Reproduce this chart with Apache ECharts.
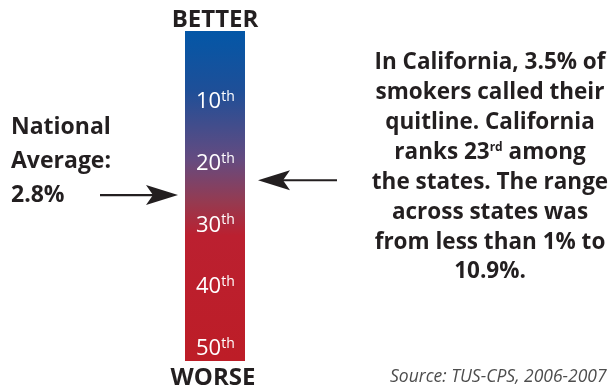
<!DOCTYPE html>
<html><head><meta charset="utf-8">
<script src="https://cdn.jsdelivr.net/npm/echarts@6/dist/echarts.min.js"></script>
<style>html,body{margin:0;padding:0;background:#fff}#c{width:608px;height:387px}</style>
</head><body><div id="c"></div>
<script>
// ---- data ----
const rankTicks = [10, 20, 30, 40, 50];
const tickSuffix = ['th', 'th', 'th', 'th', 'th'];
const rankExtent = [-1.2, 52.3];
const californiaRank = 23;
const nationalAverageRank = 25.4;
const topLabel = 'BETTER';
const bottomLabel = 'WORSE';
const leftLines = ['National', 'Average:', '2.8%'];
const rightLines = [
  'In California, 3.5% of',
  'smokers called their',
  'quitline. California',
  'ranks 23{s|rd} among',
  'the states. The range',
  'across states was',
  'from less than 1% to',
  '10.9%.'
];
const sourceText = 'Source: TUS-CPS, 2006-2007';

// ---- chart ----
const FONT = '"Open Sans", "Liberation Sans", sans-serif';
const DARK = '#231f20';
const chart = echarts.init(document.getElementById('c'), null, {renderer: 'canvas'});

const option = {
  animation: false,
  backgroundColor: '#ffffff',
  grid: {left: 185, width: 60, top: 31, bottom: 26},
  xAxis: {type: 'value', min: 0, max: 1, show: false},
  yAxis: {
    type: 'value', inverse: true, min: rankExtent[0], max: rankExtent[1], z: 10,
    axisLine: {show: false}, axisTick: {show: false}, splitLine: {show: false},
    axisLabel: {
      inside: true, margin: 11, customValues: rankTicks,
      formatter: function (v) {
        const i = rankTicks.indexOf(v);
        return '{n|' + v + '}{s|' + tickSuffix[i] + '}';
      },
      rich: {
        n: {fontFamily: FONT, fontSize: 22, color: '#ffffff', lineHeight: 26, verticalAlign: 'bottom'},
        s: {fontFamily: FONT, fontSize: 14, color: '#ffffff', lineHeight: 26, verticalAlign: 'bottom', padding: [0, 0, 9, 0]}
      }
    }
  },
  series: [{
    type: 'custom',
    data: [[rankExtent[0], rankExtent[1]]],
    renderItem: function (params, api) {
      const p0 = api.coord([0, api.value(0)]);
      const p1 = api.coord([1, api.value(1)]);
      return {
        type: 'rect',
        shape: {x: p0[0], y: Math.min(p0[1], p1[1]), width: p1[0] - p0[0], height: Math.abs(p1[1] - p0[1])},
        style: {
          fill: new echarts.graphic.LinearGradient(0, 0, 0, 1, [
            {offset: 0, color: '#0357a7'},
            {offset: 0.18, color: '#1e4f98'},
            {offset: 0.39, color: '#654b80'},
            {offset: 0.52, color: '#963a50'},
            {offset: 0.62, color: '#bb2030'},
            {offset: 1, color: '#bd1d27'}
          ])
        }
      };
    }
  }]
};
chart.setOption(option);

const yCal = chart.convertToPixel({yAxisIndex: 0}, californiaRank);
const yNat = chart.convertToPixel({yAxisIndex: 0}, nationalAverageRank);
const yTop = chart.convertToPixel({yAxisIndex: 0}, rankExtent[0]);
const yBot = chart.convertToPixel({yAxisIndex: 0}, rankExtent[1]);
const xMid = chart.convertToPixel({xAxisIndex: 0}, 0.5);

function arrow(tipX, y, dir, len) {
  // dir: +1 points right, -1 points left
  const head = 32, half = 10, notch = 7;
  return [
    {type: 'line', shape: {x1: tipX - dir * len, y1: y, x2: tipX - dir * (head - notch), y2: y},
     style: {stroke: DARK, lineWidth: 2.2}},
    {type: 'polygon', shape: {points: [
      [tipX, y], [tipX - dir * head, y - half], [tipX - dir * (head - notch), y], [tipX - dir * head, y + half]
    ]}, style: {fill: DARK}}
  ];
}

const graphics = [];
graphics.push({type: 'text', x: xMid, y: yTop - 11, style: {text: topLabel, font: 'bold 24px ' + FONT, fill: DARK, textAlign: 'center', textVerticalAlign: 'middle'}});
graphics.push({type: 'text', x: xMid - 2, y: yBot + 17, style: {text: bottomLabel, font: 'bold 24px ' + FONT, fill: DARK, textAlign: 'center', textVerticalAlign: 'middle'}});
leftLines.forEach(function (t, i) {
  graphics.push({type: 'text', x: 11, y: yNat - 68 + i * 34, style: {text: t, font: 'bold 23px ' + FONT, fill: DARK, textAlign: 'left', textVerticalAlign: 'middle'}});
});
rightLines.forEach(function (t, i) {
  graphics.push({type: 'text', x: 490, y: 63 + i * 29.85, style: {
    text: t, font: 'bold 22.5px ' + FONT, fill: DARK, textAlign: 'center', textVerticalAlign: 'middle',
    rich: {s: {fontFamily: FONT, fontWeight: 'bold', fontSize: 12, fill: DARK, padding: [0, 0, 10, 0]}}
  }});
});
graphics.push({type: 'text', x: 390, y: 377, style: {text: sourceText, font: 'italic 17.5px ' + FONT, fill: '#4d4d4d', textAlign: 'left', textVerticalAlign: 'middle'}});
arrow(178, yNat, 1, 78).forEach(function (g) { graphics.push(g); });
arrow(258, yCal, -1, 79).forEach(function (g) { graphics.push(g); });

chart.setOption({graphic: graphics});
</script>
</body></html>
